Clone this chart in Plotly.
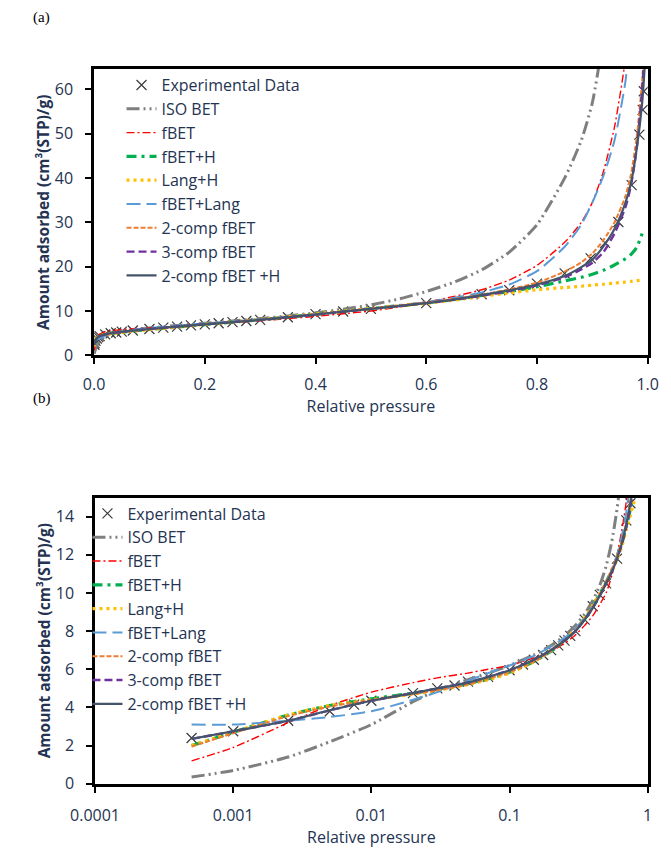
import plotly.graph_objects as go

# ---------------- data ----------------
exp_p = [0.0005, 0.001, 0.0025, 0.005, 0.0075, 0.01, 0.02, 0.03, 0.04, 0.05, 0.07, 0.1, 0.125, 0.15,
         0.175, 0.2, 0.225, 0.25, 0.275, 0.3, 0.35, 0.4, 0.45, 0.5, 0.6, 0.7, 0.75, 0.8, 0.85, 0.897,
         0.923, 0.947, 0.971, 0.985, 0.991, 0.993]
exp_v = [2.4, 2.75, 3.3, 3.8, 4.15, 4.35, 4.75, 5.0, 5.15, 5.35, 5.6, 5.95, 6.25, 6.5,
         6.75, 7.0, 7.25, 7.5, 7.75, 8.0, 8.6, 9.3, 9.9, 10.5, 11.8, 13.8, 14.7, 16.2, 18.5, 21.9,
         25.4, 30.1, 38.4, 49.8, 55.4, 59.6]

grid_p = [0.0005, 0.001, 0.0025, 0.005, 0.01, 0.02, 0.03, 0.05, 0.07, 0.1, 0.15, 0.2, 0.25, 0.3,
          0.35, 0.4, 0.45, 0.5, 0.55, 0.6, 0.65, 0.7, 0.75, 0.8, 0.85, 0.88, 0.9, 0.92, 0.94, 0.96,
          0.97, 0.98, 0.99, 0.995]

iso_bet = [0.35, 0.7, 1.4, 2.2, 3.1, 4.3, 4.9, 5.45, 5.8, 6.2, 6.75, 7.25, 7.75, 8.3, 8.9, 9.6, 10.4,
           11.4, 12.7, 14.4, 16.5, 19.3, 23.3, 29.5, 40.0, 48.5, 57.0, 72.0, 95.0, 140.0, 180.0,
           250.0, 400.0, 700.0]
fbet = [1.2, 1.9, 3.2, 4.1, 4.8, 5.3, 5.55, 5.8, 6.0, 6.2, 6.6, 6.95, 7.35, 7.8, 8.3, 8.8, 9.4, 10.0,
        10.9, 12.0, 13.3, 14.8, 17.0, 20.3, 25.5, 30.0, 34.5, 41.5, 51.5, 67.0, 80.0, 110.0, 200.0,
        400.0]
fbet_h = [2.0, 2.7, 3.6, 4.1, 4.45, 4.75, 4.95, 5.25, 5.5, 5.85, 6.4, 6.95, 7.5, 8.05, 8.65, 9.3,
          9.95, 10.55, 11.2, 11.85, 12.6, 13.5, 14.4, 15.5, 16.8, 17.6, 18.3, 19.2, 20.4, 21.8,
          22.8, 24.3, 27.5, None]
lang_h = [2.0, 2.7, 3.6, 4.1, 4.4, 4.7, 4.9, 5.2, 5.45, 5.8, 6.4, 7.0, 7.55, 8.1, 8.7, 9.35, 9.95,
          10.55, 11.15, 11.75, 12.45, 13.3, 14.1, 14.8, 15.3, 15.6, 15.85, 16.05, 16.3, 16.55,
          16.7, 16.85, 17.0, None]
fbet_lang = [3.1, 3.1, 3.3, 3.5, 3.8, 4.4, 4.8, 5.4, 5.8, 6.2, 6.7, 7.2, 7.65, 8.15, 8.7, 9.3, 9.9,
             10.5, 11.2, 12.0, 13.0, 14.2, 16.0, 19.0, 24.5, 29.5, 34.5, 40.5, 48.5, 62.0, 75.0,
             100.0, 180.0, 350.0]
comp2 = [1.95, 2.65, 3.55, 4.05, 4.4, 4.7, 4.9, 5.2, 5.5, 5.85, 6.4, 6.95, 7.5, 8.05, 8.65, 9.3,
         9.95, 10.6, 11.25, 11.95, 12.75, 13.7, 14.9, 16.4, 18.9, 21.0, 23.0, 26.0, 30.0, 36.0,
         41.0, 49.0, 62.0, 72.0]
comp3 = [2.35, 2.75, 3.3, 3.85, 4.35, 4.75, 5.0, 5.3, 5.6, 5.95, 6.5, 7.0, 7.5, 8.0, 8.6, 9.2,
         9.85, 10.5, 11.1, 11.8, 12.55, 13.45, 14.5, 15.8, 17.6, 19.4, 20.9, 23.3, 27.5, 33.5,
         38.5, 46.5, 60.0, 70.0]
comp2_h = [2.35, 2.75, 3.3, 3.85, 4.35, 4.75, 5.0, 5.3, 5.6, 5.95, 6.5, 7.0, 7.5, 8.0, 8.6, 9.2,
           9.85, 10.5, 11.1, 11.8, 12.6, 13.6, 14.7, 16.0, 17.9, 19.9, 21.6, 24.6, 28.5, 34.5,
           39.0, 46.5, 57.0, 66.0]

names = ["ISO BET", "fBET", "fBET+H", "Lang+H", "fBET+Lang", "2-comp fBET", "3-comp fBET",
         "2-comp fBET +H"]
series = [iso_bet, fbet, fbet_h, lang_h, fbet_lang, comp2, comp3, comp2_h]
log_ticks = [0.0001, 0.001, 0.01, 0.1, 1]
log_tick_text = ["0.0001", "0.001", "0.01", "0.1", "1"]

# ---------------- styles ----------------
styles = [
    dict(color="#7F7F7F", width=3, dash="13px,4px,2px,4px,2px,4px"),
    dict(color="#FF0000", width=1.4, dash="8px,3px,2px,3px"),
    dict(color="#00B050", width=3.2, dash="10px,5px,3px,5px"),
    dict(color="#FFC000", width=3.2, dash="3px,4px"),
    dict(color="#5B9BD5", width=2, dash="14px,6px"),
    dict(color="#ED7D31", width=2, dash="5px,2px"),
    dict(color="#7030A0", width=2.4, dash="8px,4px"),
    dict(color="#44546A", width=2.2, dash="solid"),
]

W, H = 671, 854
TXT = "#243352"
FONT = "Open Sans"

fig = go.Figure()

for xa, ya, lg in [("x", "y", "legend"), ("x2", "y2", "legend2")]:
    fig.add_trace(go.Scatter(
        x=exp_p, y=exp_v, mode="markers", name="Experimental Data",
        marker=dict(symbol="x-thin-open", size=10, color="#3a3a3a", line=dict(width=1.2, color="#3a3a3a")),
        xaxis=xa, yaxis=ya, legend=lg))
    for nm, vals, st in zip(names, series, styles):
        fig.add_trace(go.Scatter(
            x=grid_p, y=vals, mode="lines", name=nm, line=dict(**st, shape="spline", smoothing=0.6),
            connectgaps=False, xaxis=xa, yaxis=ya, legend=lg))


def px_x(v):
    return v / W


def px_y(v):
    return 1 - v / H


axis_common = dict(
    showline=True, linecolor="black", linewidth=2.5, mirror=True, showgrid=False, zeroline=False,
    ticks="outside", ticklen=6, tickwidth=2, tickcolor="black",
    tickfont=dict(family=FONT, size=16, color=TXT),
)
xt = dict(family=FONT, size=16, color=TXT)
yt = dict(family=FONT, size=15.5, color=TXT)

fig.update_layout(
    width=W, height=H,
    margin=dict(l=0, r=0, t=0, b=0),
    paper_bgcolor="white", plot_bgcolor="white",
    font=dict(family=FONT, color=TXT),
    xaxis=dict(domain=[px_x(73), px_x(658)], range=[0, 1], dtick=0.2, tickformat=".1f",
               anchor="y", ticklabelstandoff=7,
               title=dict(text="Relative pressure", font=xt, standoff=2),
               **axis_common),
    yaxis=dict(domain=[px_y(360), px_y(70)], range=[0, 64.6], dtick=10, anchor="x",
               ticklabelstandoff=9,
               title=dict(text="<b>Amount adsorbed (cm³(STP)/g)</b>", font=yt, standoff=2),
               **axis_common),
    xaxis2=dict(domain=[px_x(74), px_x(658)], type="log", range=[-4, 0], tickvals=log_ticks,
                ticktext=log_tick_text, anchor="y2", ticklabelstandoff=9,
                title=dict(text="Relative pressure", font=xt, standoff=3),
                **axis_common),
    yaxis2=dict(domain=[px_y(794), px_y(504)], range=[0, 15], dtick=2, anchor="x2",
                ticklabelstandoff=9,
                title=dict(text="<b>Amount adsorbed (cm³(STP)/g)</b>", font=yt, standoff=2),
                **axis_common),
    legend=dict(x=px_x(102), y=px_y(69), xanchor="left", yanchor="top", bgcolor="rgba(0,0,0,0)",
                font=dict(family=FONT, size=16, color=TXT), tracegroupgap=0),
    legend2=dict(x=px_x(66), y=px_y(503), xanchor="left", yanchor="top", bgcolor="rgba(0,0,0,0)",
                 font=dict(family=FONT, size=16, color=TXT), tracegroupgap=0),
    showlegend=True,
)

fig.add_annotation(text="(a)", x=px_x(6), y=px_y(18), xref="paper", yref="paper", xanchor="left",
                   yanchor="middle", showarrow=False,
                   font=dict(family="Liberation Serif", size=15, color="black"))
fig.add_annotation(text="(b)", x=px_x(6), y=px_y(404), xref="paper", yref="paper", xanchor="left",
                   yanchor="middle", showarrow=False,
                   font=dict(family="Liberation Serif", size=15, color="black"))

fig.write_html("out.html")
